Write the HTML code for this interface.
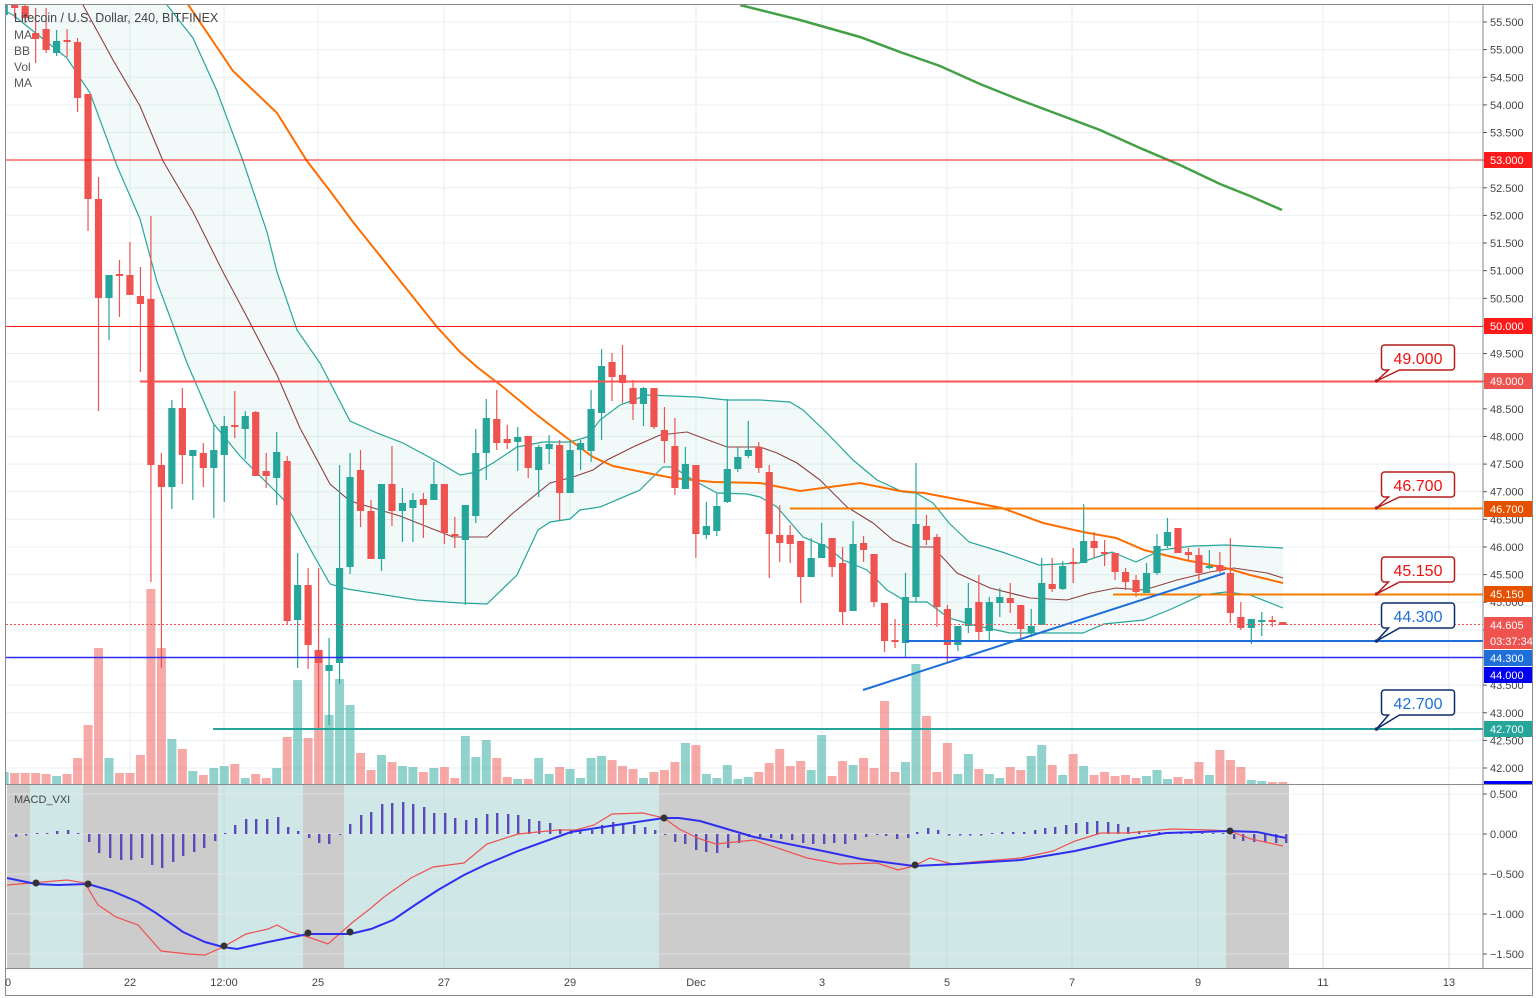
<!DOCTYPE html>
<html><head><meta charset="utf-8"><style>
html,body{margin:0;padding:0;background:#fff;}
svg{display:block;font-family:"Liberation Sans",sans-serif;}
</style></head><body>
<svg id="s" width="1536" height="998" viewBox="0 0 1536 998" xmlns="http://www.w3.org/2000/svg"></svg>
<script>
const S=document.getElementById('s');let h='';
const W=1483;
const py=p=>22+(55.5-p)*55.26;
const cx=i=>4.2+10.48*i;
const pl=(pts,st,w,extra='')=>`<polyline fill="none" stroke="${st}" stroke-width="${w}" ${extra} points="${pts.map(p=>p.join(',')).join(' ')}"/>`;
// clip defs
h+=`<defs><clipPath id="cm"><rect x="6" y="5" width="${W-6}" height="779"/></clipPath><clipPath id="cd"><rect x="6" y="785" width="${W-6}" height="183"/></clipPath></defs>`;
// grid
let gx=[130,224,318,444,570,696,822,947,1072,1198,1323,1449];
for(const x of gx){h+=`<line x1="${x}" y1="5" x2="${x}" y2="968" stroke="#e4edf2" stroke-width="1"/>`;}
for(let p=55.5;p>=41.99;p-=0.5){const y=py(p);h+=`<line x1="6" y1="${y}" x2="${W}" y2="${y}" stroke="#e9f0f4" stroke-width="1"/>`;}
// MACD pane bg
const spans=[[7,30,'#cccccc'],[30,83,'#cfe7e7'],[83,218,'#cccccc'],[218,303,'#cfe7e7'],[303,344,'#cccccc'],[344,659,'#cfe7e7'],[659,910,'#cccccc'],[910,1226,'#cfe7e7'],[1226,1289,'#cccccc']];
for(const [a,b,c] of spans)h+=`<rect x="${a}" y="785" width="${b-a}" height="183" fill="${c}"/>`;
for(const y of [794,834,874,914,954])h+=`<line x1="6" y1="${y}" x2="${W}" y2="${y}" stroke="#e4edf2" stroke-opacity="0.6" stroke-width="1"/>`;
for(const x of gx){h+=`<line x1="${x}" y1="785" x2="${x}" y2="968" stroke="#bcc9cf" stroke-opacity="0.5" stroke-width="1"/>`;}
h+=`<g clip-path="url(#cm)">`;
// BB fill
const up=[[167,5],[193,38],[217,91],[243,161],[267,232],[277,272],[297,330],[320,363],[350,421],[377,433],[403,443],[440,463],[460,475],[477,472],[493,463],[517,447],[543,442],[570,442],[587,437],[600,420],[620,405],[647,395],[697,397],[727,400],[760,400],[790,402],[803,410],[827,433],[853,460],[877,480],[903,492],[916,493],[933,503],[949,523],[969,542],[1002,552],[1039,565],[1079,563],[1112,552],[1136,562],[1161,550],[1193,546],[1226,545],[1283,548]];
const lo=[[7,12],[13,15],[67,58],[90,93],[117,166],[140,219],[157,282],[187,363],[213,423],[240,456],[263,479],[283,499],[313,554],[330,584],[347,589],[417,600],[460,603],[487,604],[517,575],[538,530],[550,522],[570,519],[580,510],[600,507],[640,490],[663,467],[673,467],[693,480],[717,493],[747,494],[760,497],[777,507],[803,537],[827,547],[843,560],[867,570],[887,590],[907,602],[927,602],[949,618],[973,625],[1010,633],[1083,633],[1104,624],[1144,620],[1169,610],[1202,595],[1226,592],[1250,595],[1283,608]];
const up0=[[10,0],[167,0]].concat(up);
h+=`<polygon fill="#26a69a" fill-opacity="0.06" points="${up0.concat(lo.slice().reverse()).map(p=>p.join(',')).join(' ')}"/>`;
h+=pl(up,'#26a69a',1.2)+pl(lo,'#26a69a',1.2);
const mid=[[83,5],[113,60],[140,106],[163,161],[193,212],[223,272],[247,317],[277,375],[300,428],[330,484],[350,501],[400,516],[453,537],[487,537],[513,513],[550,483],[573,477],[593,470],[607,460],[633,447],[660,435],[687,432],[700,437],[727,447],[760,447],[777,453],[797,463],[820,480],[847,507],[873,523],[893,540],[910,547],[933,547],[957,573],[990,588],[1030,598],[1067,600],[1091,593],[1116,588],[1144,590],[1177,580],[1210,572],[1234,568],[1267,573],[1283,578]];
h+=pl([[70,-10]].concat(mid),'#8d3f3f',1.1);
const ora=[[185,0],[233,71],[277,113],[307,161],[330,191],[353,222],[413,297],[437,327],[460,352],[477,367],[503,387],[537,415],[567,438],[593,457],[613,466],[647,473],[673,478],[713,482],[760,483],[800,491],[860,483],[900,491],[924,493],[961,500],[1002,508],[1043,523],[1083,532],[1116,538],[1144,550],[1185,560],[1226,568],[1250,575],[1283,583]];
h+=pl(ora,'#ff6d00',2);
const grn=[[740,5],[800,20],[860,37],[900,52],[940,66],[980,84],[1020,100],[1060,115],[1100,130],[1140,148],[1180,165],[1220,184],[1250,196],[1282,210]];
h+=pl(grn,'#43a047',2.5);
// volume
const vol=[772,773,773,773,774,776,774,758,725,648,758,773,773,755,589,648,739,749,771,775,768,766,764,778,774,778,768,737,680,738,650,715,679,705,753,770,755,762,766,767,772,768,767,778,736,757,740,758,777,779,779,758,774,767,769,778,758,756,760,766,769,778,772,770,762,743,745,774,778,765,779,777,772,763,749,766,761,770,735,776,761,765,758,768,701,772,762,664,716,772,743,774,754,769,774,778,767,770,756,745,765,775,754,766,775,772,776,775,778,776,770,779,777,779,762,775,750,760,767,780,781,782,782];
// candles [color, bodyTop, bodyBot, wickTop, wickBot]
const C=`g 2,15,0,22|r 0,8,0,18|r 6,18,0,23|r 33,39,8,63|r 29,50,8,53|g 41,53,30,56|r 40,42,29,57|r 42,98,38,112|r 94,199,94,231|r 199,298,177,411|g 275,298,275,340|r 274,276,260,317|r 275,295,242,295|r 296,304,267,372|r 299,465,216,582|r 465,487,453,668|g 408,487,400,509|r 408,455,388,484|g 450,456,450,500|r 453,468,443,487|g 450,468,425,518|g 426,455,416,502|r 425,427,391,438|g 416,429,411,459|r 412,476,411,476|r 471,476,453,488|g 452,478,432,505|r 461,621,456,624|g 585,620,553,668|r 585,645,568,669|r 650,663,568,730|g 665,671,638,725|g 568,663,465,684|g 477,567,453,574|r 470,511,450,527|r 511,559,500,559|g 484,559,484,571|r 484,511,446,526|g 503,511,488,542|g 500,508,493,542|r 499,505,493,538|g 484,500,462,500|r 484,533,484,544|r 534,536,517,548|g 505,540,505,605|g 453,516,429,523|g 418,453,399,480|r 419,443,390,450|r 439,443,425,449|g 437,442,427,471|r 436,468,436,478|g 447,470,445,497|g 444,449,435,464|r 445,493,440,520|g 450,493,440,493|g 443,450,440,470|g 409,451,390,462|g 366,413,349,440|r 362,377,353,401|r 375,383,345,403|r 388,404,380,420|g 388,404,387,426|r 388,427,388,429|r 430,441,407,463|r 446,488,418,495|g 464,489,447,489|r 465,534,465,558|g 526,535,502,539|g 506,531,493,536|g 469,502,399,503|g 457,469,447,472|g 450,456,421,458|r 447,468,442,473|r 472,534,465,578|r 535,543,505,562|r 535,544,525,563|r 541,577,541,603|g 558,577,538,577|g 544,558,523,558|r 538,567,538,577|r 563,612,547,625|g 544,611,521,611|r 543,550,536,562|r 554,602,554,607|r 603,641,603,652|r 640,642,619,648|g 597,643,573,657|g 524,597,463,602|r 526,540,515,545|r 537,607,534,627|r 609,645,605,662|g 626,645,626,651|g 608,626,583,633|r 602,632,575,640|g 602,631,597,640|g 597,603,588,617|r 598,603,583,613|r 605,629,605,638|g 626,633,609,637|g 583,625,558,625|r 584,589,558,592|g 566,589,561,590|r 562,564,548,583|g 541,563,504,563|r 541,548,532,558|r 552,554,540,566|r 553,572,553,580|r 572,582,568,590|r 580,592,575,597|g 573,593,563,593|g 546,573,534,575|g 532,546,518,548|r 528,553,528,553|r 552,555,548,560|r 555,573,548,582|g 566,568,550,569|r 565,571,552,573|r 573,613,538,623|r 617,628,602,630|g 619,628,619,644|g 620,622,612,636|r 620,622,616,627|r 622,625,622,625`.split('|');
const col=c=>c=='g'?'#26a69a':'#ef5350';
C.forEach((s,i)=>{const c=s[0];const top=vol[i];const x=cx(i);
 h+=`<rect x="${x-4.5}" y="${top}" width="9" height="${784-top}" fill="${col(c)}" fill-opacity="0.5"/>`;});
C.forEach((s,i)=>{const c=s[0];const [a,b,t,bt]=s.slice(2).split(',').map(Number);const x=cx(i);
 h+=`<line x1="${x}" y1="${t}" x2="${x}" y2="${bt}" stroke="${col(c)}" stroke-width="1.2"/>`;
 h+=`<rect x="${x-3.6}" y="${a}" width="7.2" height="${Math.max(b-a,1.5)}" fill="${col(c)}"/>`;});
// horizontal lines
h+=`<line x1="6" y1="160" x2="${W}" y2="160" stroke="#ff1a1a" stroke-width="1"/>`;
h+=`<line x1="6" y1="326.5" x2="${W}" y2="326.5" stroke="#ff1a1a" stroke-width="1"/>`;
h+=`<line x1="140" y1="381.5" x2="${W}" y2="381.5" stroke="#ff5252" stroke-width="2"/>`;
h+=`<line x1="790" y1="508.5" x2="${W}" y2="508.5" stroke="#f57c00" stroke-width="2"/>`;
h+=`<line x1="1113" y1="594.5" x2="${W}" y2="594.5" stroke="#f57c00" stroke-width="2"/>`;
h+=`<line x1="6" y1="624.5" x2="${W}" y2="624.5" stroke="#ef5350" stroke-width="1" stroke-dasharray="2,2"/>`;
h+=`<line x1="905" y1="641" x2="${W}" y2="641" stroke="#1e6fd9" stroke-width="2"/>`;
h+=`<line x1="6" y1="657.5" x2="${W}" y2="657.5" stroke="#2b2bf5" stroke-width="1.5"/>`;
h+=`<line x1="213" y1="729" x2="${W}" y2="729" stroke="#26a69a" stroke-width="2"/>`;
h+=`<line x1="863" y1="690" x2="1225" y2="573" stroke="#1e6fd9" stroke-width="2"/>`;
h+=`</g>`;
// callouts
function callout(y0,ly,txt,tc,bc){h+=`<path d="M1384.5,${y0}h67a3,3 0 0 1 3,3v19a3,3 0 0 1 -3,3h-52l-23,${ly-(y0+25)}l12,-${ly-(y0+25)}h-4a3,3 0 0 1 -3,-3v-19a3,3 0 0 1 3,-3z" fill="#fff" stroke="${bc}" stroke-width="1.5"/>`;
 h+=`<circle cx="1376.5" cy="${ly}" r="1.8" fill="${bc}"/><text x="1418" y="${y0+19}" text-anchor="middle" font-size="16" fill="${tc}">${txt}</text>`;}
callout(345,381,'49.000','#f01010','#b71c1c');
callout(472,508,'46.700','#f01010','#b71c1c');
callout(557,594,'45.150','#f01010','#b71c1c');
callout(603,641,'44.300','#1e6fd9','#0d2c6b');
callout(690,729,'42.700','#1e6fd9','#0d2c6b');
// MACD
h+=`<g clip-path="url(#cd)">`;
const hist=[[16,-3],[26,0],[37,1],[47,1],[57,3],[68,4],[78,1],[89,-8],[99,-19],[110,-24],[121,-26],[131,-26],[142,-24],[152,-31],[162,-34],[173,-28],[183,-22],[194,-18],[204,-14],[215,-7],[225,1],[235,9],[246,15],[256,15],[267,15],[278,17],[288,7],[298,3],[309,-4],[319,-9],[329,-10],[340,-1],[350,10],[361,19],[371,22],[382,30],[392,31],[403,32],[413,30],[424,27],[434,21],[445,21],[455,16],[466,14],[476,16],[487,20],[497,21],[508,20],[518,19],[529,15],[539,13],[550,11],[560,5],[571,4],[580,4],[592,4],[602,9],[613,12],[623,11],[634,9],[645,7],[655,4],[665,-1],[675,-8],[685,-10],[696,-16],[706,-18],[717,-19],[728,-14],[739,-9],[749,-3],[760,-3],[771,-4],[781,-5],[792,-6],[803,-9],[813,-10],[824,-10],[834,-9],[845,-10],[855,-6],[866,-3],[877,-1],[886,-2],[897,-5],[908,-4],[917,2],[928,6],[938,4],[949,0],[960,0],[970,0],[981,0],[992,1],[1002,2],[1013,2],[1024,2],[1035,4],[1045,6],[1055,7],[1066,9],[1076,11],[1087,12],[1097,13],[1108,12],[1118,10],[1128,7],[1139,3],[1149,1],[1159,2],[1170,2],[1181,2],[1191,1],[1202,1],[1213,1],[1223,1],[1234,-5],[1243,-7],[1254,-8],[1265,-8],[1276,-9],[1286,-9]];
for(const [x,v] of hist){const a=Math.abs(v)<1?1.5:Math.abs(v);h+=`<rect x="${x-1}" y="${v>0?834-v:834}" width="2.4" height="${a}" fill="#5a4cb8"/>`;}
const red=[[7,885],[67,880],[85,883],[98,905],[116,917],[138,925],[161,951],[188,954],[205,955],[223,947],[246,934],[268,929],[277,925],[290,932],[308,937],[328,944],[353,922],[371,908],[384,897],[411,878],[433,867],[464,863],[487,844],[518,834],[558,830],[576,830],[594,825],[612,814],[643,813],[664,818],[679,829],[700,839],[716,844],[754,840],[807,858],[839,864],[877,863],[898,870],[914,866],[930,858],[952,864],[984,861],[1021,858],[1053,851],[1075,841],[1101,833],[1128,833],[1171,829],[1209,830],[1230,831],[1251,839],[1283,846]];
const blu=[[7,878],[36,884],[58,885],[88,884],[112,891],[138,902],[156,913],[183,932],[205,942],[223,947],[237,949],[268,942],[308,934],[350,934],[371,929],[393,920],[415,905],[438,890],[464,875],[487,864],[518,851],[571,832],[603,827],[664,818],[679,818],[700,821],[727,829],[754,837],[823,851],[861,859],[914,866],[957,864],[1021,860],[1075,851],[1128,839],[1166,833],[1230,831],[1257,832],[1286,838]];
h+=pl(red,'#f05050',1.2)+pl(blu,'#2f2ff0',2);
for(const [x,y] of [[36,883],[88,884],[224,946],[308,933],[350,932],[664,818],[915,865],[1230,831]])h+=`<circle cx="${x}" cy="${y}" r="3.5" fill="#333"/>`;
h+=`</g>`;
// frame & axes
h+=`<rect x="5.5" y="4.5" width="1527" height="991" fill="none" stroke="#8a8a8a" stroke-width="1"/>`;
h+=`<line x1="${W}" y1="5" x2="${W}" y2="968" stroke="#8a8a8a"/>`;
h+=`<line x1="6" y1="784.5" x2="1532" y2="784.5" stroke="#8a8a8a"/>`;
h+=`<line x1="6" y1="968.5" x2="1532" y2="968.5" stroke="#8a8a8a"/>`;
h+=`<rect x="1484" y="781" width="48" height="3" fill="#0000ff"/>`;
// price labels
for(let k=0;k<=27;k++){const p=55.5-k*0.5;const y=py(p);h+=`<line x1="${W}" y1="${y}" x2="${W+4}" y2="${y}" stroke="#555"/><text x="1490" y="${y+4}" font-size="11" fill="#444">${p.toFixed(3)}</text>`;}
for(const [y,t] of [[794,'0.500'],[834,'0.000'],[874,'\u22120.500'],[914,'\u22121.000'],[954,'\u22121.500']])h+=`<line x1="${W}" y1="${y}" x2="${W+4}" y2="${y}" stroke="#555"/><text x="1490" y="${y+4}" font-size="11" fill="#444">${t}</text>`;
function tag(y,t,bg){h+=`<rect x="1484" y="${y-8}" width="48" height="16" fill="${bg}"/><text x="1490" y="${y+4}" font-size="11" fill="#fff">${t}</text>`;}
tag(160,'53.000','#ff1a1a');tag(326,'50.000','#ff1a1a');tag(381,'49.000','#ef5350');tag(509,'46.700','#e65100');tag(594,'45.150','#e65100');tag(625,'44.605','#ef5350');tag(641,'03:37:34','#ef5350');tag(658,'44.300','#1e6fd9');tag(675,'44.000','#0000ee');tag(729,'42.700','#26a69a');
// time labels
const tl=[[8,'0'],[130,'22'],[224,'12:00'],[318,'25'],[444,'27'],[570,'29'],[696,'Dec'],[822,'3'],[947,'5'],[1072,'7'],[1198,'9'],[1323,'11'],[1449,'13']];
for(const [x,t] of tl)h+=`<text x="${x}" y="986" text-anchor="middle" font-size="11" fill="#444">${t}</text>`;
// legend
h+=`<text x="14" y="22" font-size="12.5" fill="#444">Litecoin / U.S. Dollar, 240, BITFINEX</text>`;
h+=`<text x="14" y="39" font-size="12" fill="#555">MA</text><text x="14" y="55" font-size="12" fill="#555">BB</text><text x="14" y="71" font-size="12" fill="#555">Vol</text><text x="14" y="87" font-size="12" fill="#555">MA</text>`;
h+=`<text x="14" y="803" font-size="11" fill="#444">MACD_VXI</text>`;
S.innerHTML=h;
</script>
</body></html>
